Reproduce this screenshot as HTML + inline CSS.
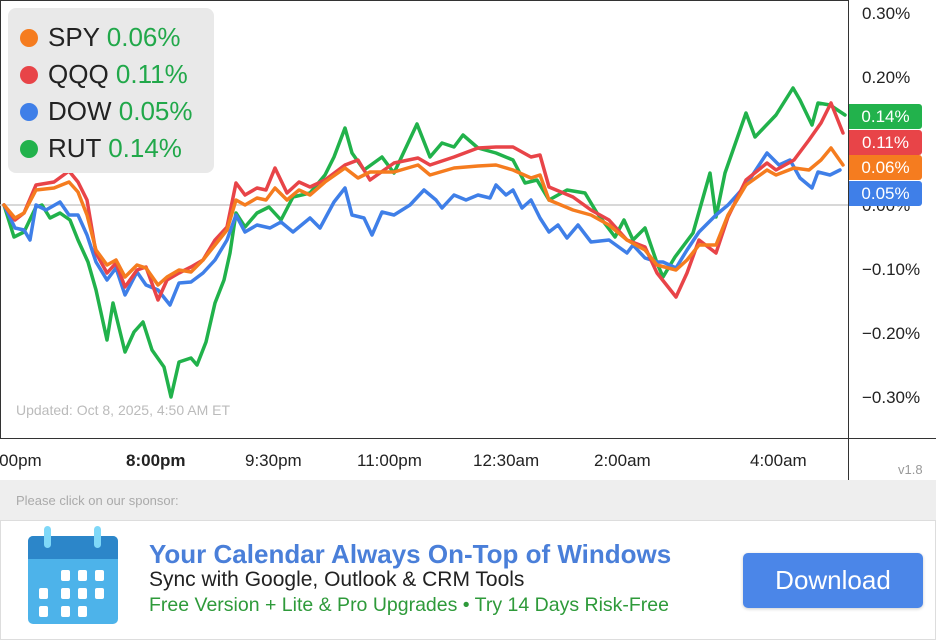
<!DOCTYPE html>
<html><head><style>
body{margin:0;width:936px;height:640px;overflow:hidden;background:#fff;font-family:"Liberation Sans",sans-serif;position:relative}
.ax{position:absolute;left:862px;font-size:17px;color:#222}
.flag{position:absolute;left:849px;width:73px;height:25px;color:#fff;font-size:17px;line-height:25px;text-align:center;border-radius:0 3px 3px 0}
.xl{position:absolute;top:451px;font-size:17px;color:#222}
.leg{position:absolute;left:8px;top:8px;width:206px;height:165px;background:#e9e9e9;border-radius:8px}
.li{position:absolute;left:12px;font-size:26px;color:#222;height:30px;line-height:30px}
.li span.d{display:inline-block;width:18px;height:18px;border-radius:50%;margin-right:10px;vertical-align:-1px}
.li b{font-weight:normal;color:#21a84a}
</style></head><body>
<svg style="position:absolute;left:0;top:0" width="936" height="480">
<line x1="0" y1="0.5" x2="848" y2="0.5" stroke="#333" stroke-width="1"/>
<line x1="0.5" y1="0" x2="0.5" y2="438" stroke="#333"/>
<line x1="848.5" y1="0" x2="848.5" y2="480" stroke="#333"/>
<line x1="0" y1="438.5" x2="936" y2="438.5" stroke="#333"/>
<line x1="0" y1="205" x2="848" y2="205" stroke="#ccc" stroke-width="1.5"/>
<g fill="none" stroke-width="3.5" stroke-linejoin="round" stroke-linecap="round">
<polyline stroke="#21b24b" points="4,205 14,237 24,232 36,207 42,205 50,218 60,213 70,220 78,240 88,262 96,290 107,340 113,303 125,352 134,332 143,322 152,350 164,367 171,397 179,362 191,358 197,365 206,342 215,303 224,280 230,253 236,213 245,227 257,213 269,207 281,220 293,197 310,193 325,175 334,157 345,128 352,153 364,170 382,157 394,173 417,124 430,157 442,143 454,147 463,135 478,148 496,153 513,160 525,183 537,180 549,200 567,190 585,193 597,213 615,237 624,220 633,240 645,228 657,263 663,277 675,257 693,233 710,173 716,217 725,173 746,113 755,137 776,115 793,88 800,100 812,125 818,103 830,105 845,115"/>
<polyline stroke="#3f7fe8" points="4,205 15,228 24,230 30,240 36,205 46,210 60,202 69,215 78,215 87,235 96,262 107,280 116,268 125,295 137,272 146,285 158,290 170,305 179,283 191,282 203,273 215,260 227,240 236,215 245,232 257,225 270,228 281,222 293,232 310,218 320,228 334,202 345,188 352,215 364,218 372,235 382,212 394,215 410,205 424,190 436,200 442,208 454,195 466,200 478,195 490,198 496,185 506,195 513,190 522,208 531,200 540,218 549,232 558,225 567,238 578,225 591,242 609,240 627,253 633,245 645,258 657,262 663,262 676,268 687,250 699,232 716,215 728,205 746,185 767,153 779,165 790,160 800,178 812,188 818,172 830,175 840,170"/>
<polyline stroke="#e84448" points="4,205 15,220 24,213 36,185 54,182 69,171 78,182 87,200 96,253 107,273 116,263 125,287 137,270 146,267 158,300 167,280 179,273 191,267 203,260 215,240 227,227 236,183 245,195 257,188 266,190 275,168 287,193 299,182 310,187 325,180 345,165 358,160 370,180 394,163 418,158 430,165 454,157 478,148 496,147 513,147 531,157 540,155 549,187 573,197 591,210 609,220 627,240 645,247 657,273 676,297 687,273 699,240 716,253 728,217 746,180 767,163 776,170 794,160 809,140 821,123 831,103 843,133"/>
<polyline stroke="#f57c1f" points="4,205 15,218 24,213 36,190 54,188 69,182 78,192 87,215 96,250 107,265 116,260 125,277 137,265 146,268 158,285 167,277 179,270 191,272 203,260 215,245 227,230 236,200 245,205 257,198 266,200 275,188 287,200 299,190 310,195 325,182 345,168 358,178 370,172 394,172 418,165 430,175 454,168 478,166 496,165 513,170 531,178 540,175 549,200 573,210 591,215 609,225 627,240 645,250 657,265 676,270 687,260 699,245 716,245 728,215 746,185 767,170 776,175 794,168 809,170 821,160 831,148 843,165"/>
</g>
</svg>
<div class="ax" style="top:4px">0.30%</div>
<div class="ax" style="top:68px">0.20%</div>
<div class="ax" style="top:196px">0.00%</div>
<div class="ax" style="top:260px">−0.10%</div>
<div class="ax" style="top:324px">−0.20%</div>
<div class="ax" style="top:388px">−0.30%</div>
<div class="flag" style="top:104px;background:#22b24c">0.14%</div>
<div class="flag" style="top:130px;background:#e84448">0.11%</div>
<div class="flag" style="top:155px;background:#f57c1f">0.06%</div>
<div class="flag" style="top:181px;background:#3f7fe8">0.05%</div>
<div class="leg">
<div class="li" style="top:14px"><span class="d" style="background:#f57c1f"></span>SPY <b>0.06%</b></div>
<div class="li" style="top:51px"><span class="d" style="background:#e84448"></span>QQQ <b>0.11%</b></div>
<div class="li" style="top:88px"><span class="d" style="background:#3f7fe8"></span>DOW <b>0.05%</b></div>
<div class="li" style="top:125px"><span class="d" style="background:#22b24c"></span>RUT <b>0.14%</b></div>
</div>
<div style="position:absolute;left:16px;top:402px;font-size:14px;color:#bbb">Updated: Oct 8, 2025, 4:50 AM ET</div>
<div class="xl" style="left:-15px">8:00pm</div>
<div class="xl" style="left:126px;font-weight:bold">8:00pm</div>
<div class="xl" style="left:245px">9:30pm</div>
<div class="xl" style="left:357px">11:00pm</div>
<div class="xl" style="left:473px">12:30am</div>
<div class="xl" style="left:594px">2:00am</div>
<div class="xl" style="left:750px">4:00am</div>
<div style="position:absolute;left:898px;top:462px;font-size:13px;color:#999">v1.8</div>
<div style="position:absolute;left:0;top:480px;width:936px;height:40px;background:#eee"></div>
<div style="position:absolute;left:16px;top:493px;font-size:13px;color:#aaa">Please click on our sponsor:</div>
<div style="position:absolute;left:0;top:520px;width:934px;height:118px;border:1px solid #ddd;background:#fff"></div>
<svg style="position:absolute;left:27px;top:526px" width="92" height="100">
<rect x="1" y="10" width="90" height="88" rx="5" fill="#4db3ea"/>
<path d="M1,15 a5,5 0 0 1 5,-5 h80 a5,5 0 0 1 5,5 v18 h-90z" fill="#2c86c9"/>
<rect x="17" y="0" width="7" height="22" rx="3.5" fill="#7fd8f8"/>
<rect x="67" y="0" width="7" height="22" rx="3.5" fill="#7fd8f8"/>
<g fill="#fff">
<rect x="34" y="44" width="9" height="11" rx="2"/><rect x="51" y="44" width="9" height="11" rx="2"/><rect x="68" y="44" width="9" height="11" rx="2"/>
<rect x="12" y="62" width="9" height="11" rx="2"/><rect x="34" y="62" width="9" height="11" rx="2"/><rect x="51" y="62" width="9" height="11" rx="2"/><rect x="68" y="62" width="9" height="11" rx="2"/>
<rect x="12" y="80" width="9" height="11" rx="2"/><rect x="34" y="80" width="9" height="11" rx="2"/><rect x="51" y="80" width="9" height="11" rx="2"/>
</g></svg>
<div style="position:absolute;left:149px;top:539px;font-size:26px;font-weight:bold;color:#4a7fd9;white-space:nowrap">Your Calendar Always On-Top of Windows</div>
<div style="position:absolute;left:149px;top:568px;font-size:21px;color:#222;white-space:nowrap">Sync with Google, Outlook &amp; CRM Tools</div>
<div style="position:absolute;left:149px;top:594px;font-size:19.5px;color:#2e9a3a;white-space:nowrap">Free Version + Lite &amp; Pro Upgrades • Try 14 Days Risk-Free</div>
<div style="position:absolute;left:743px;top:553px;width:180px;height:55px;background:#4b86e8;border-radius:5px;color:#fff;font-size:26px;line-height:55px;text-align:center;box-shadow:0 1px 3px rgba(0,0,0,.2)">Download</div>
</body></html>
